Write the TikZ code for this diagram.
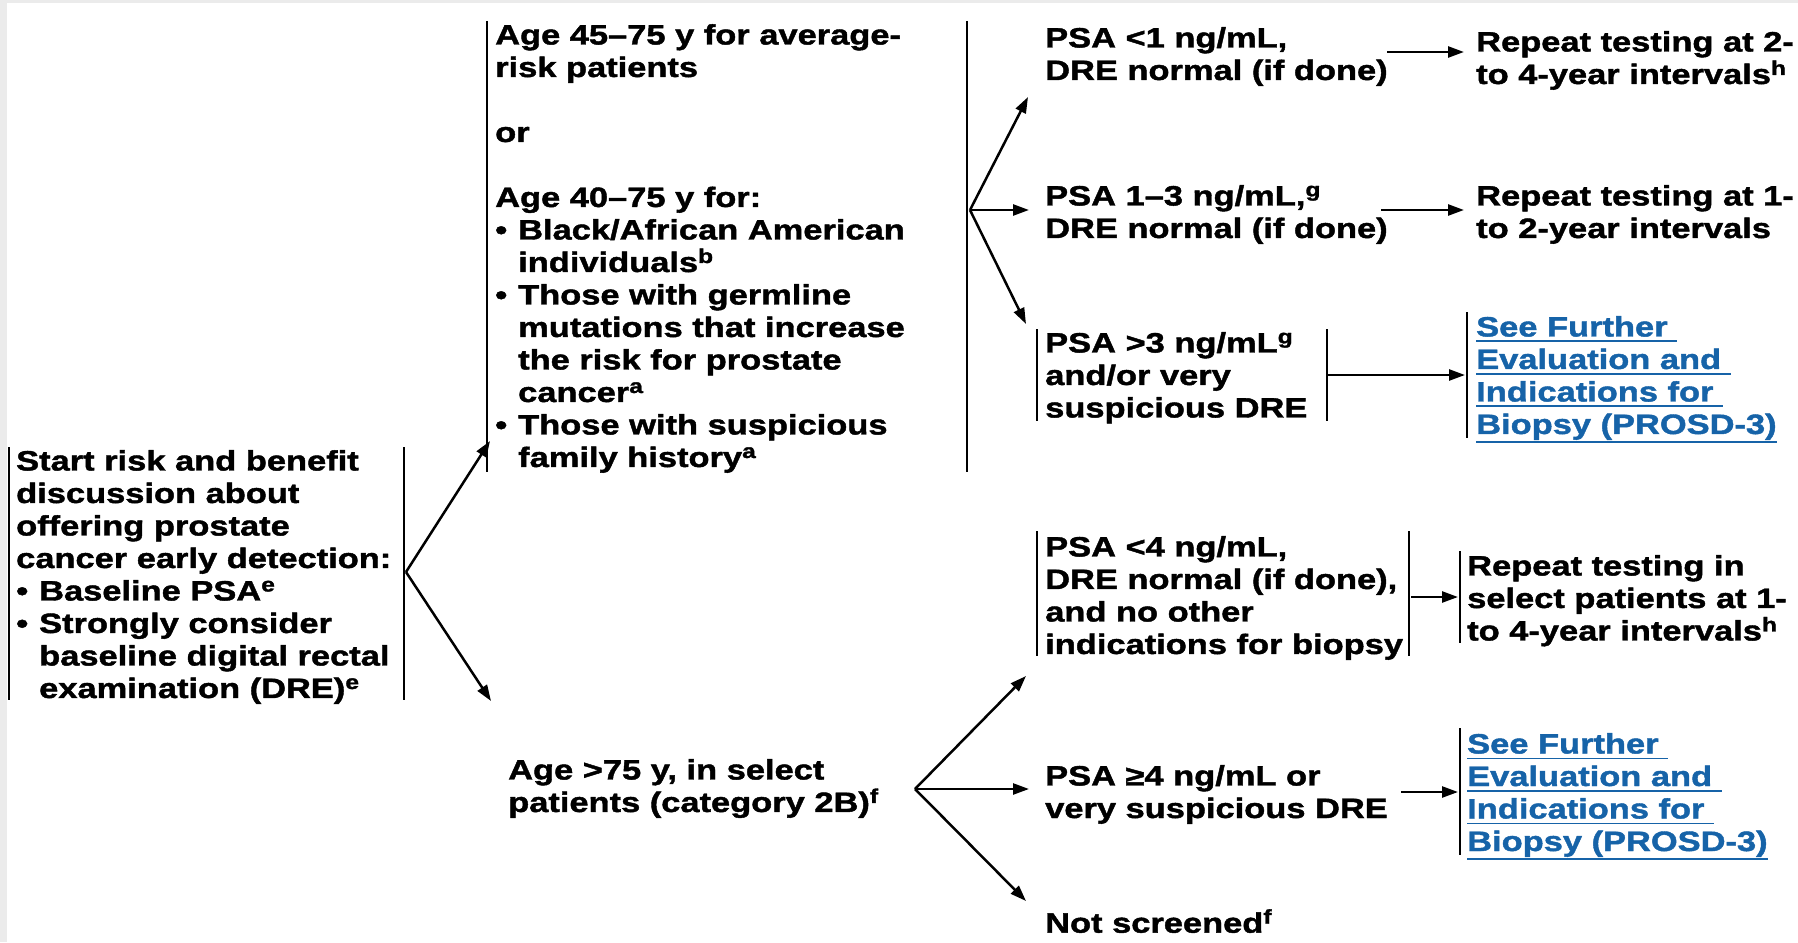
\documentclass[tikz,border=0pt]{standalone}
\usepackage{fontspec}
\usetikzlibrary{arrows.meta}
\newfontfamily\mf{Liberation Sans}[FakeStretch=1.23, BoldFeatures={FakeBold=1.5}]
\definecolor{bggray}{RGB}{235,235,235}
\definecolor{linkblue}{RGB}{22,99,168}
\newcommand\sups[1]{\raisebox{9pt}{\fontsize{20}{20}\selectfont #1}}
\newcommand\bul{\makebox[23pt][l]{•}}
\newcommand\ind{\hspace*{23pt}}
\newcommand\lk[2][4]{\leavevmode\setbox0\hbox{#2}\rlap{\copy0}\rule[\dimexpr-#1pt-1.8pt\relax]{\wd0}{1.8pt}}
\tikzset{
  txt/.style={anchor=north west, inner sep=0pt, align=left,
    font=\mf\bfseries\fontsize{28}{32.5}\selectfont},
  lnk/.style={txt, text=linkblue},
  bar/.style={line width=2.3pt},
  arr/.style={line width=2.5pt, -{Triangle[length=16pt,width=11pt]}}
}
\begin{document}
\begin{tikzpicture}[x=1pt,y=-1pt]
\path[use as bounding box] (0,0) rectangle (1798,942);
\fill[bggray] (0,0) rectangle (1798,942);
\fill[white] (7,3) rectangle (1798,942);

% start
\node[txt] (start) at (16,450) {Start risk and benefit\\discussion about\\offering prostate\\cancer early detection:\\\bul Baseline PSA\sups{e}\\\bul Strongly consider\\\ind baseline digital rectal\\\ind examination (DRE)\sups{e}};
\draw[bar] (9,447) -- (9,700);
\draw[bar] (404,447) -- (404,700);
\coordinate (sv) at (406,572);
\coordinate (st1) at (490,441);
\coordinate (st2) at (491,701);
\draw[arr] (sv) -- (st1);
\draw[arr] (sv) -- (st2);

% upper age node
\node[txt] (agea) at (495,24) {Age 45–75 y for average-\\risk patients\\\mbox{}\\or\\\mbox{}\\Age 40–75 y for:\\\bul Black/African American\\\ind individuals\sups{b}\\\bul Those with germline\\\ind mutations that increase\\\ind the risk for prostate\\\ind cancer\sups{a}\\\bul Those with suspicious\\\ind family history\sups{a}};
\draw[bar] (487,21) -- (487,472);
\draw[bar] (967,21) -- (967,472);
\coordinate (av) at (970,210);
\coordinate (at1) at (1028,97);
\coordinate (at2) at (1029,210);
\coordinate (at3) at (1026,324);
\draw[arr] (av) -- (at1);
\draw[arr] (av) -- (at2);
\draw[arr] (av) -- (at3);

% PSA <1
\node[txt] (p1) at (1045,27) {PSA <1 ng/mL,\\DRE normal (if done)};
\node[txt] (r1) at (1476,31) {Repeat testing at 2-\\to 4-year intervals\sups{h}};
\coordinate (p1a) at (1387,52);
\coordinate (p1b) at (1464,52);
\draw[arr] (p1a) -- (p1b);

% PSA 1-3
\node[txt] (p2) at (1045,185) {PSA 1–3 ng/mL,\sups{g}\\DRE normal (if done)};
\node[txt] (r2) at (1476,185) {Repeat testing at 1-\\to 2-year intervals};
\coordinate (p2a) at (1381,210);
\coordinate (p2b) at (1464,210);
\draw[arr] (p2a) -- (p2b);

% PSA >3
\node[txt] (p3) at (1045,332) {PSA >3 ng/mL\sups{g}\\and/or very\\suspicious DRE};
\draw[bar] (1037,329) -- (1037,421);
\draw[bar] (1327,329) -- (1327,421);
\node[lnk] (l1) at (1476,316) {\lk{See Further\ }\\\lk{Evaluation and\ }\\\lk{Indications for\ }\\\lk[7]{Biopsy (PROSD-3)}};
\draw[bar] (1467,312) -- (1467,438);
\coordinate (p3a) at (1327,375);
\coordinate (p3b) at (1465,375);
\draw[arr] (p3a) -- (p3b);

% Age >75
\node[txt] (ageb) at (508,759) {Age >75 y, in select\\patients (category 2B)\sups{f}};
\coordinate (bv) at (915,789);
\coordinate (bt1) at (1026,676);
\coordinate (bt2) at (1029,789);
\coordinate (bt3) at (1026,901);
\draw[arr] (bv) -- (bt1);
\draw[arr] (bv) -- (bt2);
\draw[arr] (bv) -- (bt3);

% PSA <4
\node[txt] (p4) at (1045,536) {PSA <4 ng/mL,\\DRE normal (if done),\\and no other\\indications for biopsy};
\draw[bar] (1037,531) -- (1037,656);
\draw[bar] (1409,531) -- (1409,656);
\node[txt] (r4) at (1467,555) {Repeat testing in\\select patients at 1-\\to 4-year intervals\sups{h}};
\draw[bar] (1460,551) -- (1460,643);
\coordinate (p4a) at (1411,597);
\coordinate (p4b) at (1458,597);
\draw[arr] (p4a) -- (p4b);

% PSA >=4
\node[txt] (p5) at (1045,765) {PSA ≥4 ng/mL or\\very suspicious DRE};
\node[lnk] (l2) at (1467,733) {\lk{See Further\ }\\\lk{Evaluation and\ }\\\lk{Indications for\ }\\\lk[7]{Biopsy (PROSD-3)}};
\draw[bar] (1460,728) -- (1460,855);
\coordinate (p5a) at (1401,792);
\coordinate (p5b) at (1458,792);
\draw[arr] (p5a) -- (p5b);

% Not screened
\node[txt] (ns) at (1045,909) {Not screened\sups{f}};
\end{tikzpicture}
\end{document}
